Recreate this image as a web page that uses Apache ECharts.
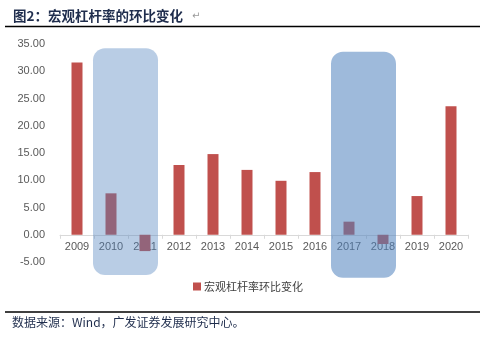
<!DOCTYPE html>
<html>
<head>
<meta charset="utf-8">
<script src="https://cdn.jsdelivr.net/npm/echarts@6/dist/echarts.min.js"></script>
<style>
  html, body { margin: 0; padding: 0; background: #fff; }
  #chart { width: 480px; height: 337px; }
</style>
</head>
<body>
<div id="chart"></div>
<script>
// Years on the category axis
const years = ['2009', '2010', '2011', '2012', '2013', '2014', '2015', '2016', '2017', '2018', '2019', '2020'];
// Quarter-on-quarter change in the macro leverage ratio (pct points)
const leverageChange = [31.6, 7.6, -3.0, 12.8, 14.8, 11.9, 9.9, 11.5, 2.4, -1.7, 7.1, 23.6];
// Shaded periods: [first year index, last year index, top value, bottom value, opacity]
const shadedPeriods = [
  [1, 2, 34.2, -7.4, 0.4],
  [8, 9, 33.6, -7.9, 0.55]
];
const seriesName = '宏观杠杆率环比变化';

const yMin = -5, yMax = 35;
const gridTop = 44, gridBottom = 75, chartHeight = 337;
const plotHeight = chartHeight - gridTop - gridBottom;
// lift the category axis up to the zero line
const zeroOffset = -plotHeight * (0 - yMin) / (yMax - yMin);

const chart = echarts.init(document.getElementById('chart'), null, { renderer: 'canvas' });

chart.setOption({
  animation: false,
  backgroundColor: '#fff',
  textStyle: { fontFamily: 'Liberation Sans, Arial, sans-serif' },
  grid: { left: 60, right: 12, top: gridTop, bottom: gridBottom, containLabel: false },
  legend: {
    data: [seriesName],
    top: 276,
    left: 188,
    itemWidth: 8,
    itemHeight: 8,
    itemGap: 4,
    icon: 'rect',
    textStyle: { fontFamily: 'Noto Sans CJK SC', fontSize: 11, color: '#404040', padding: [0, 0, 0, -2] }
  },
  xAxis: {
    type: 'category',
    data: years,
    offset: zeroOffset,
    axisLine: { onZero: false, lineStyle: { color: '#d9d9d9', width: 1 } },
    axisTick: { show: true, length: 4, lineStyle: { color: '#d9d9d9' } },
    axisLabel: { color: '#595959', fontSize: 11, margin: 7 }
  },
  yAxis: {
    type: 'value',
    min: yMin,
    max: yMax,
    interval: 5,
    axisLine: { show: false },
    axisTick: { show: false },
    splitLine: { show: false },
    axisLabel: {
      color: '#595959',
      fontSize: 11,
      margin: 15,
      formatter: v => v.toFixed(2)
    }
  },
  series: [
    {
      name: seriesName,
      type: 'bar',
      data: leverageChange,
      barWidth: 11,
      itemStyle: { color: '#c0504d' },
      z: 2
    },
    {
      type: 'custom',
      silent: true,
      z: 5,
      data: shadedPeriods,
      renderItem: function (params, api) {
        const band = api.size([1, 0])[0];
        const topLeft = api.coord([api.value(0), api.value(2)]);
        const bottomRight = api.coord([api.value(1), api.value(3)]);
        const x0 = topLeft[0] - band / 2 - 1;
        const x1 = bottomRight[0] + band / 2 - 4;
        return {
          type: 'rect',
          shape: { x: x0, y: topLeft[1], width: x1 - x0, height: bottomRight[1] - topLeft[1], r: 12 },
          style: { fill: 'rgba(79,129,189,' + api.value(4) + ')' }
        };
      }
    }
  ],
  graphic: [
    {
      type: 'text',
      left: 13,
      top: 9,
      style: {
        text: '图2：宏观杠杆率的环比变化',
        font: 'bold 13.5px "Noto Sans CJK SC"',
        fill: '#1f2d4d'
      }
    },
    {
      type: 'text',
      left: 192,
      top: 11,
      style: { text: '↵', font: '10px "DejaVu Sans"', fill: '#999' }
    },
    {
      type: 'line',
      shape: { x1: 5, y1: 26.5, x2: 480, y2: 26.5 },
      style: { stroke: '#000', lineWidth: 1.5 }
    },
    {
      type: 'line',
      shape: { x1: 5, y1: 312, x2: 480, y2: 312 },
      style: { stroke: '#000', lineWidth: 1.5 }
    },
    {
      type: 'text',
      left: 12,
      top: 316,
      style: {
        text: '数据来源：Wind，广发证券发展研究中心。',
        font: '12px "Noto Sans CJK SC"',
        fill: '#1f2d4d'
      }
    }
  ]
});
</script>
</body>
</html>
